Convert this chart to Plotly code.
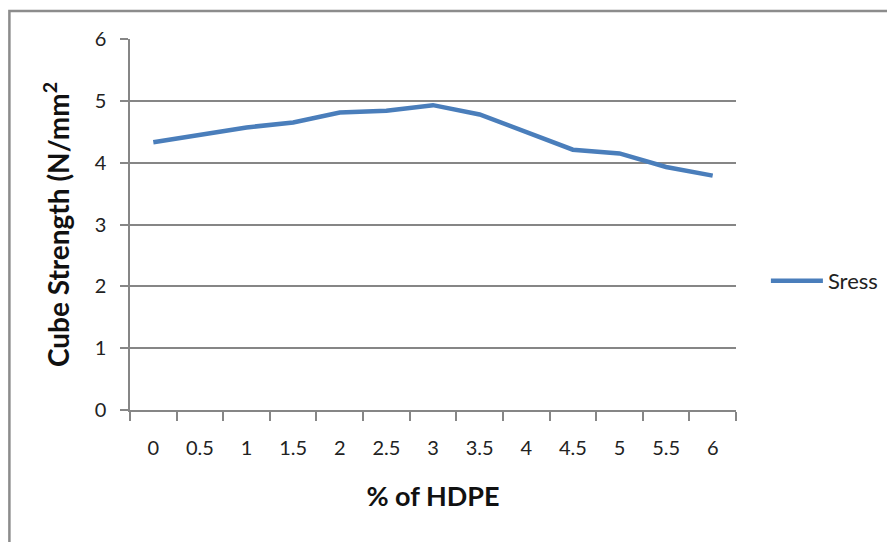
import plotly.graph_objects as go

categories = ["0", "0.5", "1", "1.5", "2", "2.5", "3", "3.5", "4", "4.5", "5", "5.5", "6"]
stress = [4.33, 4.45, 4.57, 4.65, 4.81, 4.84, 4.93, 4.78, 4.49, 4.21, 4.15, 3.93, 3.79]
series_name = "Sress"

# page body has an 8px margin, so figure coordinates are offset by 8px
OFF = 8
W, H = 895 - OFF, 542 - OFF
L, R, T, B = 130 - OFF, 738 - OFF, 39 - OFF, 410 - OFF
pw, ph = R - L, B - T

fig = go.Figure()
fig.add_trace(go.Scatter(
    x=categories, y=stress, mode="lines", name=series_name,
    line=dict(color="#4A7EBB", width=4.5),
))

font = "Lato, 'Open Sans', sans-serif"
fig.update_layout(
    width=W, height=H,
    margin=dict(l=L, r=W - R, t=T, b=H - B),
    paper_bgcolor="white", plot_bgcolor="white",
    font=dict(family=font, size=20, color="#222"),
    showlegend=True,
    legend=dict(x=(768 - OFF - L) / pw, y=(B - (281 - OFF)) / ph, xanchor="left", yanchor="middle",
                font=dict(size=22, color="#222"), bgcolor="rgba(0,0,0,0)",
                itemwidth=52),
    xaxis=dict(type="category", range=[-0.5, 12.5], showgrid=False,
               showline=True, linecolor="#868686", linewidth=1.5,
               ticks="outside", tickson="boundaries", ticklen=9, tickcolor="#868686",
               tickwidth=1.5, ticklabelstandoff=19,
               tickfont=dict(size=20),
               title=dict(text="<b>% of HDPE</b>", font=dict(size=27, color="#111"), standoff=29)),
    yaxis=dict(range=[0, 6], dtick=1, showgrid=True, gridcolor="#868686", gridwidth=1.5,
               showline=True, linecolor="#868686", linewidth=1.5, zeroline=False,
               ticks="outside", ticklen=8, tickcolor="#868686", tickwidth=1.5,
               ticklabelstandoff=10, tickfont=dict(size=20),
               title=dict(text="<b>Cube Strength (N/mm<sup>2</sup></b>", font=dict(size=28, color="#111"),
                          standoff=17)),
)

fig.add_shape(type="rect", xref="paper", yref="paper",
              x0=(9 - OFF - L) / pw, x1=(W + 20 - L) / pw,
              y0=(B - (H + 20)) / ph, y1=(B - (11 - OFF)) / ph,
              line=dict(color="#8c8c8c", width=2.5), layer="below")

fig.write_html("out.html")
